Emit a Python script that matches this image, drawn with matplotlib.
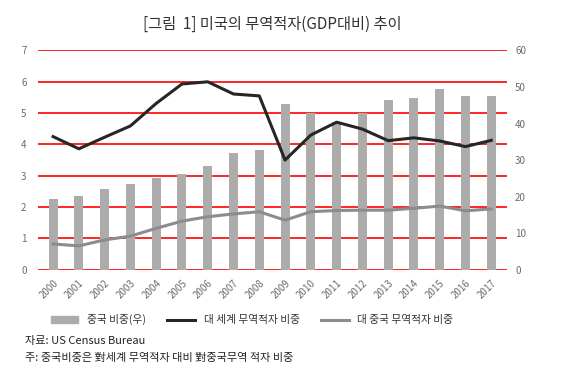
import numpy as np
import matplotlib.pyplot as plt
from matplotlib.patches import Patch
from matplotlib.lines import Line2D

plt.rcParams['font.family'] = ['Noto Sans CJK KR', 'DejaVu Sans']

# 데이터
years = [str(y) for y in range(2000, 2018)]
china_share = [19.3, 20.2, 22.1, 23.4, 25.1, 26.2, 28.3, 31.8, 32.8,
               45.3, 43.0, 40.5, 43.0, 46.4, 47.0, 49.5, 47.5, 47.5]   # 우축 (%)
world_deficit = [4.25, 3.86, 4.23, 4.59, 5.31, 5.93, 6.00, 5.61, 5.55,
                 3.50, 4.30, 4.71, 4.49, 4.12, 4.21, 4.11, 3.93, 4.13]
china_deficit = [0.82, 0.76, 0.95, 1.07, 1.32, 1.55, 1.69, 1.78, 1.85,
                 1.58, 1.85, 1.89, 1.90, 1.90, 1.96, 2.03, 1.88, 1.94]
left_ticks = list(range(0, 8))

tick_col = '#6b6b6b'
grid_col = 'red'   # 확인용

fig = plt.figure(figsize=(5.7, 3.74), dpi=100)
ax = fig.add_axes([0.066, 0.279, 0.823, 0.586])
ax2 = ax.twinx()

x = np.arange(len(years))

# 막대 (우축)
ax2.bar(x, china_share, width=0.35, color='#acacac', zorder=2)
ax2.set_ylim(0, 60)
ax2.set_yticks(range(0, 61, 10))

# 격자선 (좌축 눈금 위치) - 막대 뒤
for v in left_ticks:
    ax2.axhline(v * 60 / 7, color=grid_col, lw=1.2, zorder=1)

# 선 (좌축) - 좌축을 위로
ax.set_zorder(ax2.get_zorder() + 1)
ax.patch.set_visible(False)
ax.plot(x, world_deficit, color='#262626', lw=2.2, zorder=3)
ax.plot(x, china_deficit, color='#8c8c8c', lw=2.2, zorder=3)
ax.set_ylim(0, 7)
ax.set_yticks(left_ticks)
ax.set_xlim(-0.6, len(years) - 0.4)
ax.set_xticks(x)
ax.set_xticklabels(years, rotation=45, ha='right', rotation_mode='anchor')

for a in (ax, ax2):
    for s in a.spines.values():
        s.set_visible(False)
    a.tick_params(length=0, labelsize=7, colors=tick_col)
ax.tick_params(axis='y', pad=8)
ax2.tick_params(axis='y', pad=6)
ax.tick_params(axis='x', pad=6)

fig.text(0.478, 0.935, '[그림  1] 미국의 무역적자(GDP대비) 추이', ha='center', va='center',
         fontsize=11, color='#333333')

handles = [Patch(color='#acacac'),
           Line2D([], [], color='#262626', lw=2.2),
           Line2D([], [], color='#8c8c8c', lw=2.2)]
labels = ['중국 비중(우)', '대 세계 무역적자 비중', '대 중국 무역적자 비중']
fig.legend(handles, labels, loc='center', bbox_to_anchor=(0.442, 0.145), ncol=3,
           frameon=False, fontsize=7.7, handlelength=2.6, columnspacing=2.0,
           handleheight=0.6, labelcolor='#333333')

fig.text(0.044, 0.088, '자료: US Census Bureau', fontsize=8, color='#222222', va='center')
fig.text(0.044, 0.042, '주: 중국비중은 對세계 무역적자 대비 對중국무역 적자 비중', fontsize=8,
         color='#222222', va='center')

fig.savefig('out.png', dpi=100)
